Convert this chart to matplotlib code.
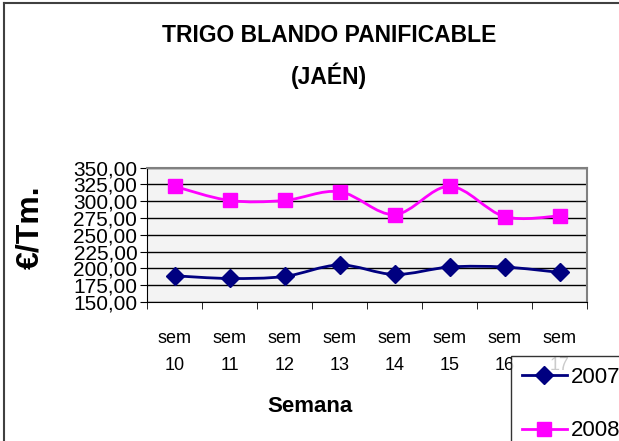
import matplotlib
matplotlib.use("Agg")
import matplotlib.pyplot as plt
from matplotlib.path import Path
from matplotlib.patches import PathPatch
from matplotlib.lines import Line2D

# weekly prices, euro per tonne
weeks = ["sem\n10", "sem\n11", "sem\n12", "sem\n13", "sem\n14", "sem\n15", "sem\n16", "sem\n17"]
price_2007 = [189, 185, 188, 205, 191, 202, 202, 194]
price_2008 = [322, 301, 301, 314, 280, 322, 277, 278]
y_ticks = [150, 175, 200, 225, 250, 275, 300, 325, 350]

FONT = ["Liberation Sans Narrow", "Liberation Sans", "DejaVu Sans"]
plt.rcParams["font.family"] = FONT


def smooth_path(xs, ys):
    # Excel style smoothed line: bezier segments through every point
    pts = list(zip(xs, ys))
    verts = [pts[0]]
    codes = [Path.MOVETO]
    for i in range(len(pts) - 1):
        p0 = pts[i - 1] if i > 0 else pts[i]
        p1 = pts[i]
        p2 = pts[i + 1]
        p3 = pts[i + 2] if i + 2 < len(pts) else pts[i + 1]
        c1 = (p1[0] + (p2[0] - p0[0]) / 6, p1[1] + (p2[1] - p0[1]) / 6)
        c2 = (p2[0] - (p3[0] - p1[0]) / 6, p2[1] - (p3[1] - p1[1]) / 6)
        verts += [c1, c2, p2]
        codes += [Path.CURVE4] * 3
    return Path(verts, codes)


fig = plt.figure(figsize=(6.19, 4.41), dpi=100)
ax = fig.add_axes([147 / 619, 1 - 302 / 441, 440 / 619, (302 - 167.5) / 441])
ax.set_facecolor("#f3f3f3")

x = list(range(len(weeks)))
series = [(price_2007, "#000080", "D", 9, "2007"), (price_2008, "#ff00ff", "s", 10, "2008")]
handles = []
for vals, col, mk, ms, lab in series:
    ax.add_patch(PathPatch(smooth_path(x, vals), fill=False, edgecolor=col, lw=2, zorder=3))
    ax.plot(x, vals, linestyle="none", marker=mk, markersize=ms, color=col, zorder=4)
    handles.append(Line2D([], [], color=col, lw=2, marker=mk, markersize=ms, label=lab))

ax.set_xlim(-0.5, len(weeks) - 0.5)
ax.set_ylim(150, 350)
ax.set_yticks(y_ticks)
ax.set_yticklabels([f"{v:.2f}".replace(".", ",") for v in y_ticks], fontsize=15)
ax.yaxis.grid(True, color="black", lw=1)
ax.set_axisbelow(True)
ax.set_xticks(x)
ax.set_xticklabels(weeks, fontsize=13, linespacing=1.75)
ax.set_xticks([i - 0.5 for i in range(len(weeks) + 1)], minor=True)
ax.tick_params(axis="x", which="major", length=0, pad=20)
ax.tick_params(axis="x", which="minor", length=5, direction="out")
ax.tick_params(axis="y", length=5, direction="out", pad=2)
for s in ["top", "right"]:
    ax.spines[s].set_color("#808080")
    ax.spines[s].set_linewidth(1.5)
ax.spines["left"].set_color("black")
ax.spines["bottom"].set_color("black")

fig.text(329 / 619, 1 - 35 / 441, "TRIGO BLANDO PANIFICABLE", ha="center", va="center",
         fontsize=16.5, fontweight="bold")
fig.text(329 / 619, 1 - 76 / 441, "(JAÉN)", ha="center", va="center",
         fontsize=16.5, fontweight="bold")
fig.text(30 / 619, 1 - 227 / 441, "€/Tm.", rotation=90, ha="center", va="center",
         fontsize=23, fontweight="bold")
fig.text(310 / 619, 1 - 406 / 441, "Semana", ha="center", va="center",
         fontsize=16, fontweight="bold")

# chart frame, only top and left edges are visible
fig.add_artist(Line2D([4 / 619, 4 / 619], [0, 1 - 3 / 441], color="#404040", lw=1.5))
fig.add_artist(Line2D([4 / 619, 1], [1 - 3 / 441, 1 - 3 / 441], color="#404040", lw=1.5))

leg = fig.legend(handles=handles, loc="upper left", bbox_to_anchor=(511 / 619, 1 - 356 / 441),
                 frameon=True, fancybox=False, edgecolor="black", fontsize=16,
                 handlelength=2.0, handletextpad=0.2, labelspacing=1.45, borderpad=0.5,
                 borderaxespad=0)
leg.get_frame().set_linewidth(1)

fig.savefig("out.png", dpi=100)
